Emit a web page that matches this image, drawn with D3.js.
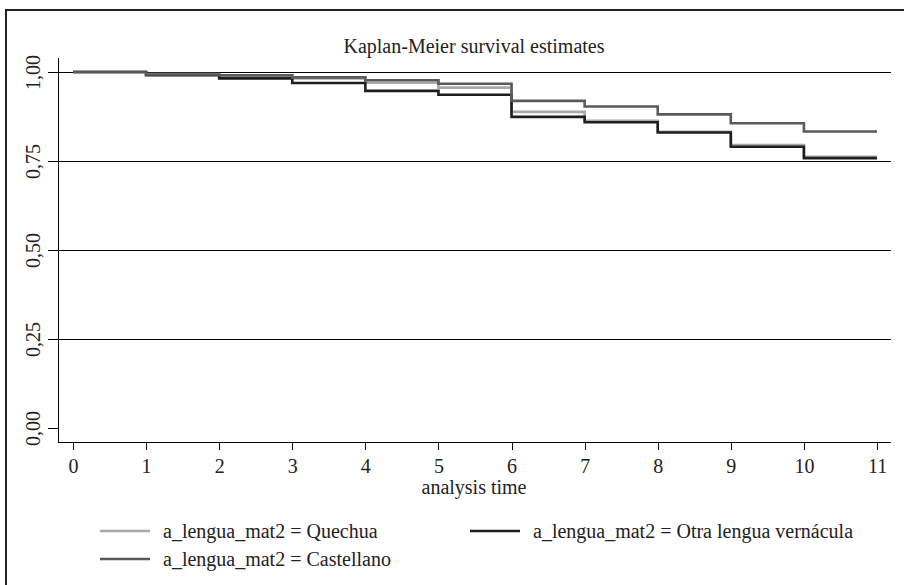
<!DOCTYPE html>
<html>
<head>
<meta charset="utf-8">
<script src="https://cdn.jsdelivr.net/npm/d3@7"></script>
<style>
  body { margin: 0; background: #fff; }
</style>
</head>
<body>
<svg id="chart" width="904" height="585"></svg>
<script>
// analysis time (start of each interval, last one closes the curve)
const times = [0, 1, 2, 3, 4, 5, 6, 7, 8, 9, 10, 11]

// survival estimate on each interval (value repeated at t = 11)
const quechua    = [1.000, 0.994, 0.989, 0.982, 0.970, 0.956, 0.888, 0.863, 0.832, 0.795, 0.762, 0.762]
const otra       = [1.000, 0.991, 0.982, 0.969, 0.947, 0.936, 0.874, 0.859, 0.830, 0.790, 0.758, 0.758]
const castellano = [1.000, 0.993, 0.991, 0.985, 0.977, 0.967, 0.919, 0.903, 0.881, 0.856, 0.833, 0.833]

const seriesNames = [
  "a_lengua_mat2 = Quechua",
  "a_lengua_mat2 = Otra lengua vernácula",
  "a_lengua_mat2 = Castellano"
]
const yTicks = [0, 0.25, 0.5, 0.75, 1]
const yTickLabels = ["0,00", "0,25", "0,50", "0,75", "1,00"]

const colors = ["#a8a8a8", "#1e1e1e", "#5a5a5a"]

// pick the first serif face that is really installed
function hasFont(name) {
  const ctx = document.createElement("canvas").getContext("2d")
  const s = "abcdefghijklmnopqrstuvwxyz0123456789ABCDEFGH"
  return ["monospace", "sans-serif"].some(base => {
    ctx.font = `40px ${base}`
    const w0 = ctx.measureText(s).width
    ctx.font = `40px '${name}', ${base}`
    return ctx.measureText(s).width !== w0
  })
}
const serifFace = ["Liberation Serif", "Times New Roman", "Tinos", "Nimbus Roman", "DejaVu Serif", "Noto Serif"]
  .find(hasFont)
const serif = serifFace ? `'${serifFace}', serif` : "serif"
const fs = 20

const svg = d3.select("#chart").attr("font-family", serif)

// outer frame (only left and top edges are visible in the picture)
svg.append("rect")
   .attr("x", 6).attr("y", 10)
   .attr("width", 1000).attr("height", 1000)
   .attr("fill", "none")
   .attr("stroke", "#222")
   .attr("stroke-width", 1.3)
   .attr("shape-rendering", "crispEdges")

const x = d3.scaleLinear().domain([0, 11]).range([73, 877])
const y = d3.scaleLinear().domain([0, 1]).range([428, 72])

const plotLeft = 58, plotRight = 891, plotBottom = 442, plotTop = 58

// gridlines
svg.append("g")
   .attr("shape-rendering", "crispEdges")
   .selectAll("line")
   .data(yTicks.filter(d => d > 0))
   .enter()
   .append("line")
   .attr("x1", plotLeft).attr("x2", plotRight)
   .attr("y1", d => y(d) + 0.5).attr("y2", d => y(d) + 0.5)
   .attr("stroke", "#000")
   .attr("stroke-width", 1)

// y axis
const yAxis = svg.append("g")
   .attr("transform", `translate(${plotLeft},0)`)
   .attr("shape-rendering", "crispEdges")
   .call(d3.axisLeft(y).tickValues(yTicks).tickSize(10).tickFormat((d, i) => yTickLabels[i]))
yAxis.attr("font-family", serif)
yAxis.select(".domain").remove()
yAxis.append("line")
     .attr("x1", 0.5).attr("x2", 0.5)
     .attr("y1", plotTop).attr("y2", plotBottom)
     .attr("stroke", "#000")
yAxis.selectAll(".tick line").attr("stroke", "#000")
yAxis.selectAll(".tick text")
     .attr("x", 0).attr("dy", 0)
     .attr("transform", "translate(-18,0) rotate(-90)")
     .attr("text-anchor", "middle")
     .attr("font-size", fs)
     .attr("fill", "#222")

// x axis
const xAxis = svg.append("g")
   .attr("transform", `translate(0,${plotBottom})`)
   .attr("shape-rendering", "crispEdges")
   .call(d3.axisBottom(x).tickValues(times).tickSize(8).tickFormat(d3.format("d")))
xAxis.attr("font-family", serif)
xAxis.select(".domain").remove()
xAxis.append("line")
     .attr("x1", plotLeft).attr("x2", plotRight)
     .attr("y1", 0.5).attr("y2", 0.5)
     .attr("stroke", "#000")
xAxis.selectAll(".tick line").attr("stroke", "#000")
xAxis.selectAll(".tick text")
     .attr("y", 17)
     .attr("font-size", fs)
     .attr("fill", "#222")

// survival curves
const line = d3.line()
   .x((d, i) => x(times[i]))
   .y(d => y(d))
   .curve(d3.curveStepAfter)

const series = [quechua, otra, castellano]
svg.append("g")
   .selectAll("path")
   .data(series)
   .enter()
   .append("path")
   .attr("d", d => line(d))
   .attr("fill", "none")
   .attr("stroke", (d, i) => colors[i])
   .attr("stroke-width", 2.6)

// title and axis title
svg.append("text")
   .text("Kaplan-Meier survival estimates")
   .attr("x", 474).attr("y", 53)
   .attr("text-anchor", "middle")
   .attr("font-size", fs)
   .attr("fill", "#222")

svg.append("text")
   .text("analysis time")
   .attr("x", 474).attr("y", 494)
   .attr("text-anchor", "middle")
   .attr("font-size", fs)
   .attr("fill", "#222")

// legend
const legendPos = [[100, 531], [470, 531], [100, 559]]
const legend = svg.append("g")
   .selectAll("g")
   .data(seriesNames)
   .enter()
   .append("g")
   .attr("transform", (d, i) => `translate(${legendPos[i][0]},${legendPos[i][1]})`)

legend.append("line")
   .attr("x1", 0).attr("x2", 50)
   .attr("stroke", (d, i) => colors[i])
   .attr("stroke-width", 2.6)

legend.append("text")
   .text(d => d)
   .attr("x", 63)
   .attr("y", 7)
   .attr("font-size", fs)
   .attr("fill", "#222")
</script>
</body>
</html>
